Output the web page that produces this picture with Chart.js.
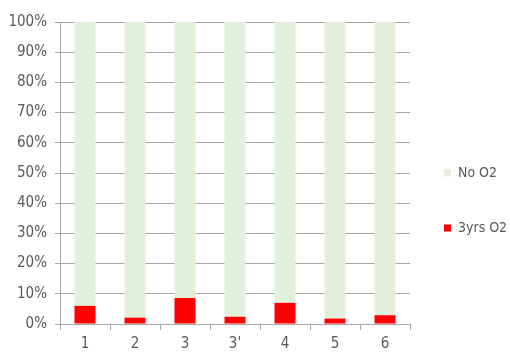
<!DOCTYPE html>
<html>
<head>
<meta charset="utf-8">
<script src="https://cdn.jsdelivr.net/npm/chart.js@4/dist/chart.umd.min.js"></script>
<style>
  html, body { margin: 0; padding: 0; background: #fff; }
  #wrap { width: 510px; height: 353px; }
</style>
</head>
<body>
<div id="wrap"><canvas id="o2Chart"></canvas></div>
<script>
// stacked share per group, in percent
const groups = ['1', '2', '3', "3'", '4', '5', '6'];
const withO2 = [6.0, 2.1, 8.6, 2.4, 7.0, 1.8, 2.9];
const noO2 = [94.0, 97.9, 91.4, 97.6, 93.0, 98.2, 97.1];
const yTicks = [0, 10, 20, 30, 40, 50, 60, 70, 80, 90, 100];

const FONT = "'DejaVu Sans Condensed', 'Noto Sans', sans-serif";
const TEXT = '#595959';
const GRID = '#a6a6a6';

// legend: fixed 100px column, nudged once the layout is done
const legendPlace = {
    id: 'legendPlace',
    afterInit(chart) {
        const lg = chart.legend;
        const fit = lg.fit;
        lg.fit = function () {
            fit.call(this);
            this.width = 100;
        };
    },
    afterLayout(chart) {
        const lg = chart.legend;
        lg.left -= 7;
        lg.top += 13;
        lg.bottom += 13;
    }
};

const ctx = document.getElementById('o2Chart');
new Chart(ctx, {
    type: 'bar',
    data: {
        labels: groups,
        datasets: [
            {
                label: '3yrs O2',
                data: withO2,
                backgroundColor: '#ff0000',
                categoryPercentage: 0.84,
                barPercentage: 0.5
            },
            {
                label: 'No O2',
                data: noO2,
                backgroundColor: '#e2efda',
                categoryPercentage: 0.84,
                barPercentage: 0.5
            }
        ]
    },
    options: {
        responsive: true,
        maintainAspectRatio: false,
        animation: false,
        layout: {
            padding: { top: 22, left: 0, right: 0, bottom: 0 }
        },
        plugins: {
            tooltip: { enabled: false },
            legend: {
                position: 'right',
                reverse: true,
                labels: {
                    boxWidth: 7,
                    boxHeight: 7,
                    padding: 41,
                    color: TEXT,
                    font: { size: 14, family: FONT }
                }
            }
        },
        scales: {
            x: {
                stacked: true,
                afterFit: s => { s.height = 29; },
                grid: {
                    display: true,
                    drawOnChartArea: false,
                    tickLength: 6,
                    color: GRID
                },
                border: { color: GRID },
                ticks: {
                    color: TEXT,
                    padding: 5,
                    font: { size: 15, family: FONT }
                }
            },
            y: {
                stacked: true,
                min: 0,
                max: 100,
                afterFit: s => { s.width = 60; },
                afterBuildTicks: s => { s.ticks = yTicks.map(v => ({ value: v })); },
                grid: {
                    color: GRID,
                    tickLength: 5
                },
                border: { color: GRID },
                ticks: {
                    color: TEXT,
                    padding: 8,
                    font: { size: 15, family: FONT },
                    callback: v => v + '%'
                }
            }
        }
    },
    plugins: [legendPlace]
});
</script>
</body>
</html>
